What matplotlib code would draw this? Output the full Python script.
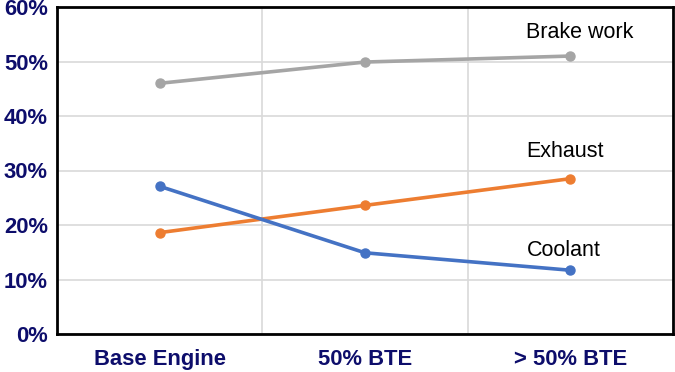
import matplotlib.pyplot as plt
from matplotlib.ticker import PercentFormatter

plt.rcParams["font.family"] = ["Liberation Sans", "DejaVu Sans"]

categories = ["Base Engine", "50% BTE", "> 50% BTE"]
brake_work = [46.0, 49.9, 51.0]
exhaust = [18.6, 23.6, 28.5]
coolant = [27.1, 14.9, 11.7]

series = [
    ("Brake work", brake_work, "#A5A5A5"),
    ("Exhaust", exhaust, "#ED7D31"),
    ("Coolant", coolant, "#4472C4"),
]
label_y = {"Brake work": 55.3, "Exhaust": 33.5, "Coolant": 15.4}
navy = "#0D0D6B"

fig = plt.figure(figsize=(6.75, 3.72), dpi=100)
ax = fig.add_axes([57 / 675, 38 / 372, 616 / 675, 327 / 372])

x = list(range(len(categories)))
for name, vals, color in series:
    ax.plot(x, vals, color=color, lw=2.6, marker="o", ms=6.5, zorder=3)
    ax.text(1.786, label_y[name], name, ha="left", va="center",
            fontsize=15.5, color="black")

ax.set_xlim(-0.5, 2.5)
ax.set_ylim(0, 60)
ax.set_yticks(range(0, 61, 10))
ax.yaxis.set_major_formatter(PercentFormatter(decimals=0))
ax.set_xticks(x)
ax.set_xticklabels(categories)
ax.set_xticks([0.5, 1.5], minor=True)
ax.grid(True, axis="y", color="#D9D9D9", lw=1.2)
ax.grid(True, axis="x", which="minor", color="#D9D9D9", lw=1.2)
ax.tick_params(which="both", length=0)
ax.tick_params(axis="y", pad=6.5)
ax.tick_params(axis="x", pad=11)
for lab in ax.get_xticklabels() + ax.get_yticklabels():
    lab.set_fontweight("bold")
    lab.set_fontsize(15.8)
    lab.set_color(navy)
for sp in ax.spines.values():
    sp.set_linewidth(2)
    sp.set_color("black")

fig.savefig("out.png", dpi=100)
